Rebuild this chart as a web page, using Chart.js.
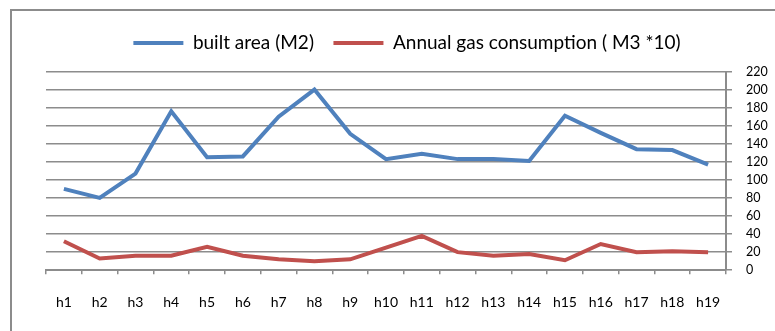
<!DOCTYPE html>
<html>
<head>
<meta charset="utf-8">
<script src="https://cdn.jsdelivr.net/npm/chart.js@4"></script>
<style>
html,body{margin:0;padding:0;background:#fff;}
#wrap{position:relative;width:775px;height:331px;overflow:hidden;}
#frame{position:absolute;left:10px;top:9px;width:800px;height:400px;border:2px solid #8c8c8c;}
#c{position:absolute;left:0;top:0;}
</style>
</head>
<body>
<div id="wrap">
<div id="frame"></div>
<canvas id="c" width="775" height="331"></canvas>
</div>
<script>
const categories = ['h1','h2','h3','h4','h5','h6','h7','h8','h9','h10','h11','h12','h13','h14','h15','h16','h17','h18','h19'];
const builtArea = [90, 80, 107, 176, 125, 126, 170, 200, 151, 123, 129, 123, 123, 121, 171, 152, 134, 133, 117];
const gasConsumption = [32, 13, 16, 16, 26, 16, 12, 10, 12, 25, 38, 20, 16, 18, 11, 29, 20, 21, 20];
const seriesNames = ['built area (M2)', 'Annual gas consumption ( M3 *10)'];
const yMin = 0, yMax = 220, yStep = 20;

const FONT = 'Lato, "Liberation Sans", sans-serif';
const GRID = '#8c8c8c';

const legendGap = {
  id: 'legendGap',
  beforeLayout(chart) {
    const lg = chart.legend;
    if (lg && !lg._gapPatched) {
      const orig = lg.fit;
      lg.fit = function () { orig.call(this); this.height += 9; };
      lg._gapPatched = true;
    }
  }
};

new Chart(document.getElementById('c'), {
  type: 'line',
  data: {
    labels: categories,
    datasets: [
      { label: seriesNames[0], data: builtArea, borderColor: '#4F81BD', backgroundColor: '#4F81BD', borderWidth: 4, pointRadius: 0, tension: 0 },
      { label: seriesNames[1], data: gasConsumption, borderColor: '#C0504D', backgroundColor: '#C0504D', borderWidth: 4, pointRadius: 0, tension: 0 }
    ]
  },
  plugins: [legendGap],
  options: {
    responsive: false,
    animation: false,
    devicePixelRatio: 1,
    layout: { padding: { left: 46, right: 7, top: 14, bottom: 0 } },
    plugins: {
      tooltip: { enabled: false },
      legend: {
        position: 'top',
        labels: {
          usePointStyle: true,
          pointStyle: 'line',
          pointStyleWidth: 50,
          boxHeight: 19,
          padding: 19.5,
          color: '#000',
          font: { family: FONT, size: 19 }
        }
      }
    },
    scales: {
      x: {
        offset: true,
        grid: { display: true, drawOnChartArea: false, drawTicks: true, tickLength: 4, color: GRID, lineWidth: 1.5, offset: true },
        border: { display: true, color: GRID, width: 2 },
        ticks: { color: '#000', font: { family: FONT, size: 14 }, padding: 20, maxRotation: 0, autoSkip: false }
      },
      y: {
        position: 'right',
        min: yMin, max: yMax,
        grid: { color: GRID, lineWidth: 1.5, tickLength: 6 },
        border: { display: true, color: GRID, width: 2 },
        ticks: { stepSize: yStep, autoSkip: false, color: '#000', font: { family: FONT, size: 12.5 }, padding: 14 },
        afterFit: (s) => { s.width = 42; }
      }
    }
  }
});
</script>
</body>
</html>
